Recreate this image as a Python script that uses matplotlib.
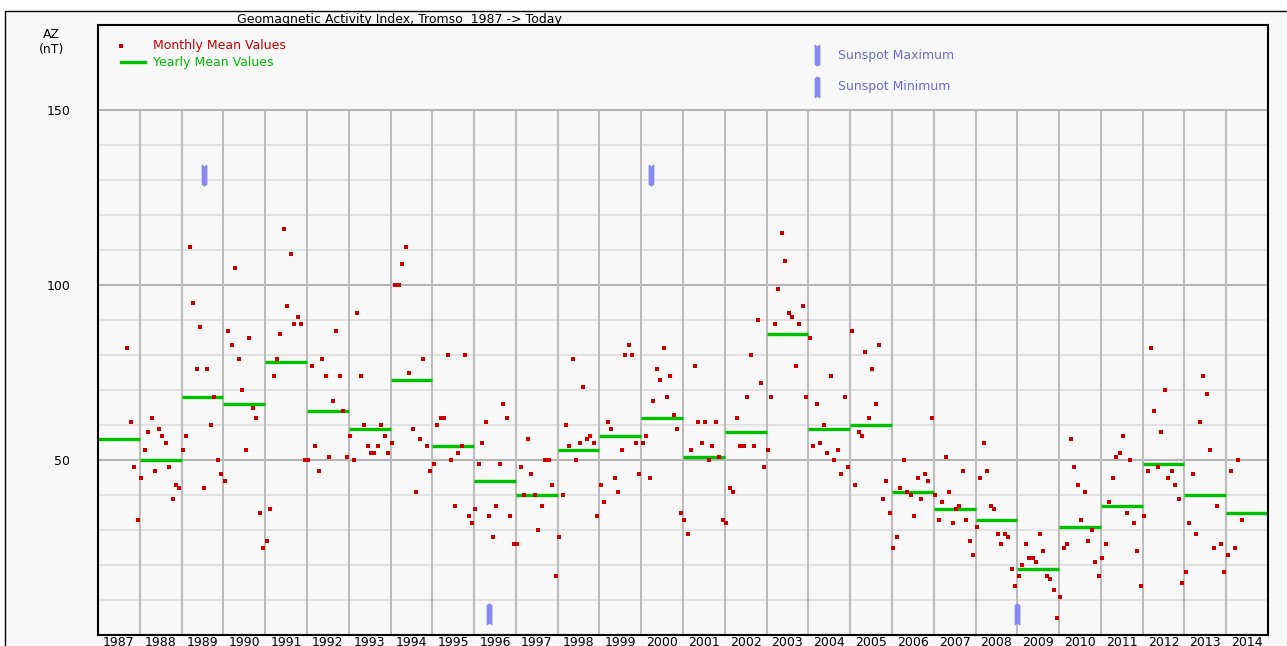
import numpy as np
import matplotlib.pyplot as plt
from matplotlib.patches import Rectangle

# monthly mean AZ (nT), first value is Sep 1987, last is May 2014
first_year = 1987
first_month = 9
monthly_az = [
    82, 61, 48, 33,                                          # 1987
    45, 53, 58, 62, 47, 59, 57, 55, 48, 39, 43, 42,          # 1988
    53, 57, 111, 95, 76, 88, 42, 76, 60, 68, 50, 46,         # 1989
    44, 87, 83, 105, 79, 70, 53, 85, 65, 62, 35, 25,         # 1990
    27, 36, 74, 79, 86, 116, 94, 109, 89, 91, 89, 50,        # 1991
    50, 77, 54, 47, 79, 74, 51, 67, 87, 74, 64, 51,          # 1992
    57, 50, 92, 74, 60, 54, 52, 52, 54, 60, 57, 52,          # 1993
    55, 100, 100, 106, 111, 75, 59, 41, 56, 79, 54, 47,      # 1994
    49, 60, 62, 62, 80, 50, 37, 52, 54, 80, 34, 32,          # 1995
    36, 49, 55, 61, 34, 28, 37, 49, 66, 62, 34, 26,          # 1996
    26, 48, 40, 56, 46, 40, 30, 37, 50, 50, 43, 17,          # 1997
    28, 40, 60, 54, 79, 50, 55, 71, 56, 57, 55, 34,          # 1998
    43, 38, 61, 59, 45, 41, 53, 80, 83, 80, 55, 46,          # 1999
    55, 57, 45, 67, 76, 73, 82, 68, 74, 63, 59, 35,          # 2000
    33, 29, 53, 77, 61, 55, 61, 50, 54, 61, 51, 33,          # 2001
    32, 42, 41, 62, 54, 54, 68, 80, 54, 90, 72, 48,          # 2002
    53, 68, 89, 99, 115, 107, 92, 91, 77, 89, 94, 68,        # 2003
    85, 54, 66, 55, 60, 52, 74, 50, 53, 46, 68, 48,          # 2004
    87, 43, 58, 57, 81, 62, 76, 66, 83, 39, 44, 35,          # 2005
    25, 28, 42, 50, 41, 40, 34, 45, 39, 46, 44, 62,          # 2006
    40, 33, 38, 51, 41, 32, 36, 37, 47, 33, 27, 23,          # 2007
    31, 45, 55, 47, 37, 36, 29, 26, 29, 28, 19, 14,          # 2008
    17, 20, 26, 22, 22, 21, 29, 24, 17, 16, 13, 5,           # 2009
    11, 25, 26, 56, 48, 43, 33, 41, 27, 30, 21, 17,          # 2010
    22, 26, 38, 45, 51, 52, 57, 35, 50, 32, 24, 14,          # 2011
    34, 47, 82, 64, 48, 58, 70, 45, 47, 43, 39, 15,          # 2012
    18, 32, 46, 29, 61, 74, 69, 53, 25, 37, 26, 18,          # 2013
    23, 47, 25, 50, 33,                                      # 2014
]

years = list(range(1987, 2015))
yearly_az = [56, 50, 68, 66, 78, 64, 59, 73, 54, 44, 40, 53, 57, 62,
             51, 58, 86, 59, 60, 41, 36, 33, 19, 31, 37, 49, 40, 35]

sunspot_max = [1989.53, 2000.23]
sunspot_min = [1996.36, 2009.0]

red = '#cc0000'
green = '#00c000'
blue = '#8888ee'
bg = '#f8f8f8'

# month index -> decimal year
k = np.arange(len(monthly_az)) + first_month - 1
month_x = first_year + k // 12 + (k % 12 + 0.4) / 12.0

fig = plt.figure(figsize=(12.87, 6.46), dpi=100, facecolor='white')
fig.patches.append(Rectangle((5/1287, -0.1), 1.2, 1 - 11/646 + 0.1,
                             transform=fig.transFigure, facecolor=bg,
                             edgecolor='black', linewidth=1, zorder=-10))

ax = fig.add_axes([98/1287, 11/646, 1170/1287, 610/646])
ax.set_facecolor(bg)
ax.set_xlim(1987, 2015)
ax.set_ylim(0, 174.3)

# grid only up to 150
minor = [v for v in range(10, 151, 10) if v % 50 != 0]
ax.hlines(minor, 1987, 2015, color='#e2e2e2', linewidth=1.5, zorder=1)
ax.hlines([50, 100, 150], 1987, 2015, color='#b4b4b4', linewidth=1.5, zorder=1)
ax.vlines(years[1:], 0, 150, color='#bcbcbc', linewidth=1.5, zorder=1)

# yearly means
ax.hlines(yearly_az, years, np.array(years) + 1, color=green, linewidth=2.4, zorder=2)
# monthly means
ax.plot(month_x, monthly_az, 's', color=red, markersize=2.8, markeredgewidth=0, zorder=3)

# sunspot markers
w = 0.13
down_mark = [(-w, 0.5), (0, 0.42), (w, 0.5), (w, -0.42), (0, -0.5), (-w, -0.42)]
up_mark = [(x, -y) for x, y in down_mark]
ax.plot(sunspot_max, [131.5] * len(sunspot_max), ls='none', marker=down_mark,
        markersize=16, color=blue, markeredgewidth=0, zorder=3)
ax.plot(sunspot_min, [6.0] * len(sunspot_min), ls='none', marker=up_mark,
        markersize=16, color=blue, markeredgewidth=0, zorder=3)

# legend (drawn by hand like the original)
ax.plot([0.0197], [0.9656], 's', color=red, markersize=2.8, markeredgewidth=0,
        transform=ax.transAxes)
ax.text(0.047, 0.9656, 'Monthly Mean Values', color=red, fontsize=9,
        va='center', transform=ax.transAxes)
ax.plot([0.0197, 0.0402], [0.9393, 0.9393], color=green, linewidth=2.4,
        transform=ax.transAxes)
ax.text(0.047, 0.9393, 'Yearly Mean Values', color=green, fontsize=9,
        va='center', transform=ax.transAxes)
ax.plot([0.6145], [0.9508], ls='none', marker=down_mark, markersize=16,
        color=blue, markeredgewidth=0, transform=ax.transAxes)
ax.text(0.6325, 0.9508, 'Sunspot Maximum', color='#6a6ad8', fontsize=9,
        va='center', transform=ax.transAxes)
ax.plot([0.6145], [0.8984], ls='none', marker=up_mark, markersize=16,
        color=blue, markeredgewidth=0, transform=ax.transAxes)
ax.text(0.6325, 0.8984, 'Sunspot Minimum', color='#6a6ad8', fontsize=9,
        va='center', transform=ax.transAxes)

# ticks
ax.set_yticks([50, 100, 150])
ax.set_yticklabels(['50', '100', '150'], fontsize=9)
ax.set_xticks(np.array(years) + 0.5)
ax.set_xticklabels([str(y) for y in years], fontsize=9)
ax.tick_params(axis='y', length=0, pad=20)
ax.tick_params(axis='x', length=0, pad=1)
for s in ax.spines.values():
    s.set_linewidth(1.5)

fig.text(237/1287, 1 - 26/646, 'Geomagnetic Activity Index, Tromso  1987 -> Today',
         fontsize=9, va='bottom', ha='left')
fig.text(51/1287, 1 - 34/646, 'AZ', fontsize=9, ha='center', va='center')
fig.text(52/1287, 1 - 50/646, '(nT)', fontsize=9, ha='center', va='center')

fig.savefig('out.png', dpi=100, facecolor='white')
